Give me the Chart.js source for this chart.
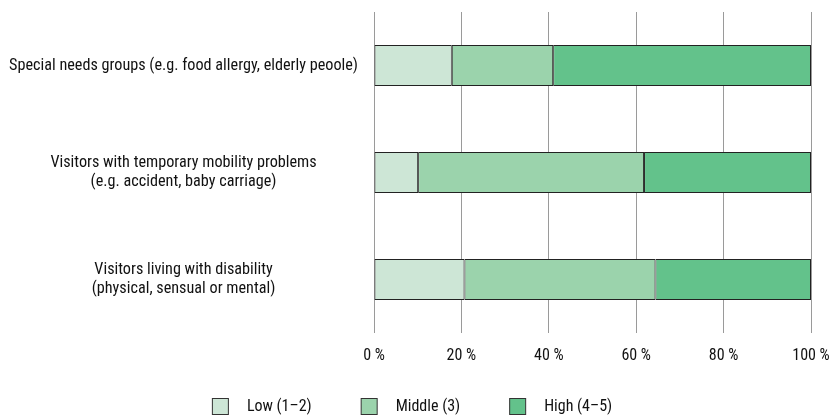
<!DOCTYPE html>
<html><head><meta charset="utf-8">
<script src="https://cdn.jsdelivr.net/npm/chart.js@4"></script>
<style>html,body{margin:0;padding:0;background:#fff}#w{width:840px;height:416px}</style>
</head><body><div id="w"><canvas id="c"></canvas></div>
<script>
const categories = [
  ['Special needs groups (e.g. food allergy, elderly peoole)'],
  ['Visitors with temporary mobility problems', '(e.g. accident, baby carriage)'],
  ['Visitors living with disability', '(physical, sensual or mental)']
];
const seriesNames = ['Low (1\u20132)', 'Middle (3)', 'High (4\u20135)'];
const lowValues = [17.8, 10.1, 20.7];
const middleValues = [23.2, 51.7, 43.7];
const highValues = [59.0, 38.2, 35.6];
const xTickValues = [0, 20, 40, 60, 80, 100];
const xTickLabels = ['0 %', '20 %', '40 %', '60 %', '80 %', '100 %'];
const colors = ['#cde6d6', '#9bd3ac', '#63c28b'];

const FONT = '"Roboto Condensed", "Liberation Sans Narrow", sans-serif';
Chart.defaults.font.family = FONT;
Chart.defaults.font.size = 16;
Chart.defaults.color = '#111';

const bottomLegend = {
  id: 'bottomLegend',
  afterDraw(chart) {
    const ctx = chart.ctx;
    const ds = chart.data.datasets;
    ctx.save();
    ctx.font = '16px ' + FONT;
    const box = 17, gap = 18, spacing = 49;
    const widths = ds.map(d => box + gap + ctx.measureText(d.label).width);
    const total = widths.reduce((a, b) => a + b, 0) + spacing * (ds.length - 1);
    let x = 412 - total / 2;
    const yTop = 398, yMid = 406.5;
    ds.forEach((d, i) => {
      ctx.fillStyle = d.backgroundColor;
      ctx.fillRect(x + 0.5, yTop + 0.5, box - 1, box - 1);
      ctx.strokeStyle = '#333';
      ctx.lineWidth = 1;
      ctx.strokeRect(x + 0.5, yTop + 0.5, box - 1, box - 1);
      ctx.fillStyle = '#111';
      ctx.textBaseline = 'middle';
      ctx.textAlign = 'left';
      ctx.fillText(d.label, x + box + gap, yMid);
      x += widths[i] + spacing;
    });
    ctx.restore();
  }
};

const values = [lowValues, middleValues, highValues];
new Chart(document.getElementById('c'), {
  type: 'bar',
  data: {
    labels: categories,
    datasets: seriesNames.map((n, i) => ({
      label: n,
      data: values[i],
      backgroundColor: colors[i],
      borderColor: '#222',
      borderWidth: 1,
      borderSkipped: false,
      barPercentage: 0.385,
      categoryPercentage: 1
    }))
  },
  plugins: [bottomLegend],
  options: {
    indexAxis: 'y',
    responsive: true,
    maintainAspectRatio: false,
    animation: false,
    layout: { padding: { top: 12, right: 29, left: 0, bottom: 51 } },
    scales: {
      x: {
        stacked: true, min: 0, max: 100,
        afterBuildTicks: (s) => { s.ticks = xTickValues.map(v => ({ value: v })); },
        afterFit: (s) => { s.paddingRight = 0; s.paddingLeft = 0; s.height = 32; },
        ticks: { callback: (v) => xTickLabels[xTickValues.indexOf(v)], padding: 13, maxRotation: 0 },
        grid: { color: '#9a9a9a', lineWidth: 1, drawTicks: false },
        border: { display: false }
      },
      y: {
        stacked: true,
        afterFit: (s) => { s.width = 374; s.paddingTop = 0; s.paddingBottom = 0; },
        ticks: { crossAlign: 'center', padding: 8, font: { size: 16.2 } },
        grid: { display: false },
        border: { display: false }
      }
    },
    plugins: {
      legend: { display: false },
      tooltip: { enabled: false }
    }
  }
});
</script></body></html>
